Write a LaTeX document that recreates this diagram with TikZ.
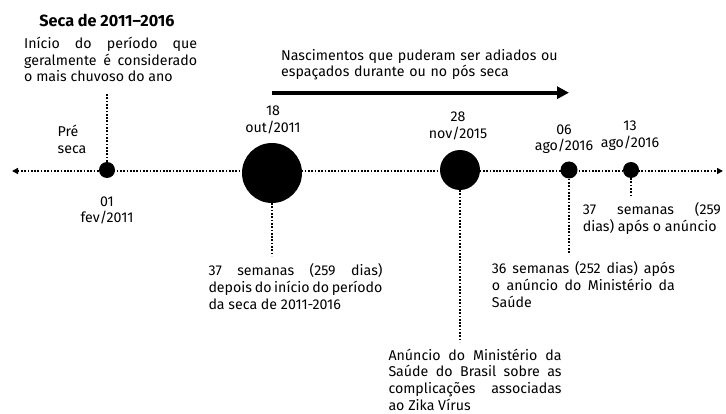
\documentclass[tikz,border=0pt]{standalone}
\usepackage{fontspec}
\setmainfont{Fira Sans}
\usetikzlibrary{arrows.meta}
\begin{document}
\begin{tikzpicture}[x=1pt,y=-1pt,
  bodyfont/.style={font=\fontsize{14.2}{16.7}\selectfont},
  para/.style={bodyfont, anchor=base west, inner sep=0pt, text width=#1, align=justify},
  leftlbl/.style={bodyfont, anchor=base west, inner sep=0pt, text width=#1, align=left},
  datelbl/.style={bodyfont, anchor=base, inner sep=0pt, text width=70pt, align=center},
  dotline/.style={line width=1.8pt, dash pattern=on 1.7pt off 1.6pt},
  axisline/.style={dotline, {Triangle[length=6pt,width=6pt]}-{Triangle[length=6pt,width=6pt]}},
  event/.style={circle, fill=black, inner sep=0pt, minimum size=#1},
  bigarrow/.style={line width=4pt, -{Triangle[length=12pt,width=12pt]}}
]
\useasboundingbox (0,0) rectangle (726,414);

% axis
\coordinate (axL) at (12,171);
\coordinate (axR) at (723,171);
\draw[axisline] (axL) -- (axR);

% events
\node[event=16pt] (c1) at (107,170) {};
\node[event=60pt] (c2) at (272,173) {};
\node[event=40pt] (c3) at (460,170) {};
\node[event=17pt] (c4) at (569,170) {};
\node[event=16pt] (c5) at (631,170) {};

% dotted connectors
\coordinate (c1up) at (107,93);
\coordinate (c2dn) at (272,256);
\coordinate (c3dn) at (460,342);
\coordinate (c4dn) at (569,254);
\coordinate (c5dn) at (631,197);
\draw[dotline] (c1.north) -- (c1up);
\draw[dotline] (c2.south) -- (c2dn);
\draw[dotline] (c3.south) -- (c3dn);
\draw[dotline] (c4.south) -- (c4dn);
\draw[dotline] (c5.south) -- (c5dn);

% title
\node[font=\fontsize{16.2}{19}\bfseries\selectfont, anchor=base, inner sep=0pt] (title) at (107,26.7) {Seca de 2011–2016};

\node[para=173pt] (t1) at (24,48.5) {Início do período que\linebreak geralmente é considerado\linebreak o mais chuvoso do ano};

\node[leftlbl=40pt] (pre) at (57.5,136.5) {Pré\\seca};

\node[datelbl] (d1) at (107,206.3) {01\\fev/2011};
\node[datelbl] (d2) at (273,116) {18\\out/2011};
\node[datelbl] (d3) at (458,122) {28\\nov/2015};
\node[datelbl] (d4) at (564,134.2) {06\\ago/2016};
\node[datelbl] (d5) at (630,131) {13\\ago/2016};

% bold arrow
\coordinate (arrS) at (272,92.7);
\coordinate (arrE) at (569,92.7);
\draw[bigarrow] (arrS) -- (arrE);
\node[leftlbl=300pt] (nasc) at (281,60.3) {Nascimentos que puderam ser adiados ou\\espaçados durante ou no pós seca};

\node[para=174pt] (t2) at (208.3,276) {37 semanas (259 dias)\linebreak depois do início do período\linebreak da seca de 2011-2016};
\node[para=173pt] (t3) at (388.3,360) {Anúncio do Ministério da\linebreak Saúde do Brasil sobre as\linebreak complicações associadas\linebreak ao Zika Vírus};
\node[para=183pt] (t4) at (491.7,274) {36 semanas (252 dias) após\linebreak o anúncio do Ministério da\linebreak Saúde};
\node[para=138pt] (t5) at (582.7,214.5) {37 semanas (259\linebreak dias) após o anúncio};
\end{tikzpicture}
\end{document}
